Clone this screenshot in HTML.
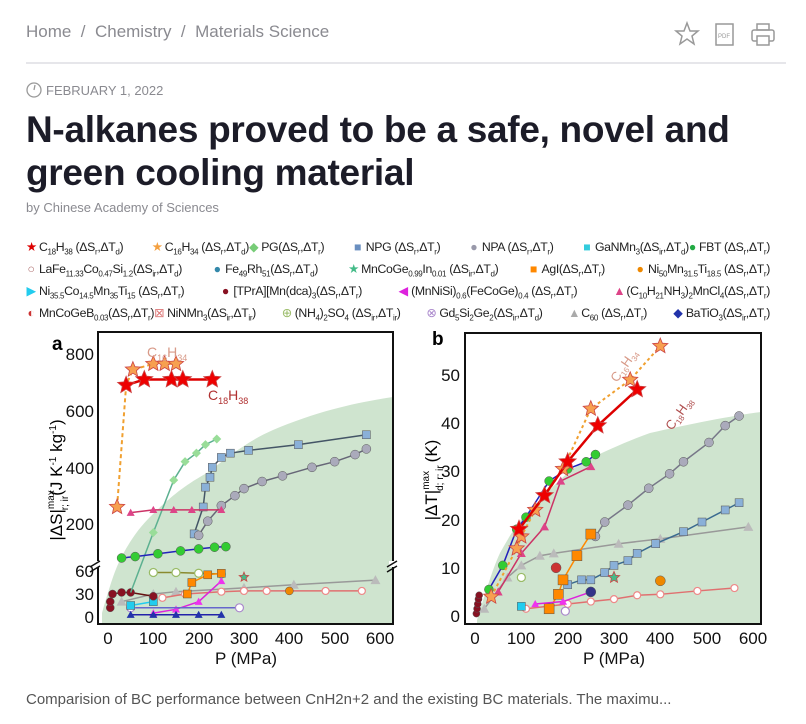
<!DOCTYPE html>
<html><head><meta charset="utf-8"><style>
body{margin:0;background:#fff;width:806px;height:724px;overflow:hidden;position:relative;font-family:"Liberation Sans",sans-serif}
.abs{position:absolute}
.bc{left:26px;top:22px;font-size:17px;color:#8a8a90}
.hr{left:26px;top:62px;width:760px;height:2px;background:#e6e6ea}
.date{left:46px;top:83px;font-size:13px;color:#8a8a90}
h1{position:absolute;left:26px;top:108px;margin:0;font-size:37px;line-height:43px;font-weight:bold;color:#1c1c28;letter-spacing:-0.3px}
.by{left:26px;top:200px;font-size:13px;color:#8a8a90}
.cap{left:26px;top:691px;font-size:15px;color:#555}
.lg{left:26px;width:744px;display:flex;justify-content:space-between;font-size:12.3px;color:#222;white-space:nowrap;letter-spacing:-0.35px}
.lg sub{font-size:8px}
.m{display:inline-block;width:10px;text-align:center;margin-right:3px}
</style></head><body>
<div class="abs bc">Home &nbsp;/&nbsp; Chemistry &nbsp;/&nbsp; Materials Science</div>
<svg class="abs" style="left:672px;top:20px" width="110" height="30" viewBox="0 0 110 30">
<polygon points="15,3 18,11 26,11 20,16 22,24 15,19 8,24 10,16 4,11 12,11" fill="none" stroke="#999" stroke-width="1.5"/>
<rect x="44" y="4" width="17" height="21" fill="none" stroke="#999" stroke-width="1.5"/><text x="46" y="18" font-size="6" fill="#999">PDF</text>
<rect x="80" y="10" width="22" height="11" rx="2" fill="none" stroke="#999" stroke-width="1.5"/><rect x="85" y="4" width="12" height="6" fill="none" stroke="#999" stroke-width="1.5"/><rect x="85" y="16" width="12" height="9" fill="#fff" stroke="#999" stroke-width="1.5"/>
</svg>
<div class="abs hr"></div>
<svg class="abs" style="left:26px;top:81px" width="16" height="18"><circle cx="8" cy="9" r="7" fill="none" stroke="#999" stroke-width="1.3"/><line x1="8" y1="9" x2="9" y2="4" stroke="#999" stroke-width="1.3"/></svg>
<div class="abs date">FEBRUARY 1, 2022</div>
<h1>N-alkanes proved to be a safe, novel and<br>green cooling material</h1>
<div class="abs by">by Chinese Academy of Sciences</div>

<div class="abs lg" style="top:240px"><span><span class="m" style="color:#d00">★</span>C<sub>18</sub>H<sub>38</sub> (ΔS<sub>r</sub>,ΔT<sub>d</sub>)</span><span><span class="m" style="color:#f4a040">★</span>C<sub>16</sub>H<sub>34</sub> (ΔS<sub>r</sub>,ΔT<sub>d</sub>)<span style="color:#7c7">◆</span> PG(ΔS<sub>r</sub>,ΔT<sub>r</sub>)</span><span><span class="m" style="color:#6a8fc0">■</span>NPG (ΔS<sub>r</sub>,ΔT<sub>r</sub>)</span><span><span class="m" style="color:#99a">●</span>NPA (ΔS<sub>r</sub>,ΔT<sub>r</sub>)</span><span><span class="m" style="color:#3cd">■</span>GaNMn<sub>3</sub>(ΔS<sub>ir</sub>,ΔT<sub>d</sub>)<span style="color:#2a4">●</span> FBT (ΔS<sub>r</sub>,ΔT<sub>r</sub>)</span></div>
<div class="abs lg" style="top:262px"><span><span class="m" style="color:#a66">○</span>LaFe<sub>11.33</sub>Co<sub>0.47</sub>Si<sub>1.2</sub>(ΔS<sub>ir</sub>,ΔT<sub>d</sub>)</span><span><span class="m" style="color:#38a">●</span>Fe<sub>49</sub>Rh<sub>51</sub>(ΔS<sub>r</sub>,ΔT<sub>d</sub>)</span><span><span class="m" style="color:#4b8">★</span>MnCoGe<sub>0.99</sub>In<sub>0.01</sub> (ΔS<sub>ir</sub>,ΔT<sub>d</sub>)</span><span><span class="m" style="color:#f80">■</span>AgI(ΔS<sub>r</sub>,ΔT<sub>r</sub>)</span><span><span class="m" style="color:#e80">●</span>Ni<sub>50</sub>Mn<sub>31.5</sub>Ti<sub>18.5</sub> (ΔS<sub>r</sub>,ΔT<sub>r</sub>)</span></div>
<div class="abs lg" style="top:284px"><span><span class="m" style="color:#2ce">▶</span>Ni<sub>35.5</sub>Co<sub>14.5</sub>Mn<sub>35</sub>Ti<sub>15</sub> (ΔS<sub>r</sub>,ΔT<sub>r</sub>)</span><span><span class="m" style="color:#812">●</span>[TPrA][Mn(dca)<sub>3</sub>(ΔS<sub>r</sub>,ΔT<sub>r</sub>)</span><span><span class="m" style="color:#d2d">◀</span>(MnNiSi)<sub>0.6</sub>(FeCoGe)<sub>0.4</sub> (ΔS<sub>r</sub>,ΔT<sub>r</sub>)</span><span><span class="m" style="color:#d48">▲</span>(C<sub>10</sub>H<sub>21</sub>NH<sub>3</sub>)<sub>2</sub>MnCl<sub>4</sub>(ΔS<sub>r</sub>,ΔT<sub>r</sub>)</span></div>
<div class="abs lg" style="top:306px"><span><span class="m" style="color:#c33">◐</span>MnCoGeB<sub>0.03</sub>(ΔS<sub>r</sub>,ΔT<sub>r</sub>)<span style="color:#d77">⊠</span> NiNMn<sub>3</sub>(ΔS<sub>ir</sub>,ΔT<sub>ir</sub>)</span><span><span class="m" style="color:#9b6">⊕</span>(NH<sub>4</sub>)<sub>2</sub>SO<sub>4</sub> (ΔS<sub>ir</sub>,ΔT<sub>ir</sub>)</span><span><span class="m" style="color:#a8c">⊗</span>Gd<sub>5</sub>Si<sub>2</sub>Ge<sub>2</sub>(ΔS<sub>ir</sub>,ΔT<sub>d</sub>)</span><span><span class="m" style="color:#aaa">▲</span>C<sub>60</sub> (ΔS<sub>r</sub>,ΔT<sub>r</sub>)</span><span><span class="m" style="color:#23a">◆</span>BaTiO<sub>3</sub>(ΔS<sub>ir</sub>,ΔT<sub>r</sub>)</span></div>

<svg class="abs" style="left:0;top:325px" width="806" height="360" viewBox="0 325 806 360" id="ch" font-family="Liberation Sans, sans-serif">
<path d="M102,617 L102,613 C110,585 115,570 120,560 C130,540 140,527 150,517 C170,497 185,485 207,473 C230,455 250,440 273,430 C320,410 360,402 393,397 L393,624 L102,624Z" fill="#cfe4cf"/>
<path d="M477,620 C485,595 492,570 500,553 C510,535 520,518 533,507 C550,490 565,472 587,460 C610,449 630,440 650,433 C690,424 730,416 761,412 L761,624 L477,624Z" fill="#cfe4cf"/>
<g id="pts"></g>
<rect x="98" y="332" width="295" height="292" fill="none" stroke="#111" stroke-width="2"/>
<rect x="92" y="561" width="10" height="6" fill="#fff"/><rect x="389" y="561" width="10" height="6" fill="#fff"/>
<path d="M90,567 l10,-6 M90,572 l10,-6 M387,567 l10,-6 M387,572 l10,-6" stroke="#111" stroke-width="1.5"/>
<g font-size="17" fill="#111" text-anchor="end">
<text x="94" y="360">800</text><text x="94" y="417">600</text><text x="94" y="474">400</text><text x="94" y="530">200</text>
<text x="94" y="577">60</text><text x="94" y="600">30</text><text x="94" y="623">0</text></g>
<g font-size="17" fill="#111" text-anchor="middle">
<text x="108" y="644">0</text><text x="153" y="644">100</text><text x="199" y="644">200</text><text x="244" y="644">300</text><text x="289" y="644">400</text><text x="335" y="644">500</text><text x="380" y="644">600</text>
<text x="246" y="664">P (MPa)</text></g>
<text x="52" y="350" font-size="19" font-weight="bold">a</text>
<text transform="translate(62,480) rotate(-90)" font-size="17" text-anchor="middle">|ΔS|<tspan font-size="10" dy="-8">max</tspan><tspan font-size="10" dx="-20" dy="14">r; ir</tspan><tspan dy="-6">(J K</tspan><tspan font-size="10" dy="-6">-1</tspan><tspan dy="6"> kg</tspan><tspan font-size="10" dy="-6">-1</tspan><tspan dy="6">)</tspan></text>
<text x="147" y="357" font-size="14" fill="#d89a88">C<tspan font-size="9" dy="4">16</tspan><tspan dy="-4">H</tspan><tspan font-size="9" dy="4">34</tspan></text>
<text x="208" y="400" font-size="14" fill="#b03030">C<tspan font-size="9" dy="4">18</tspan><tspan dy="-4">H</tspan><tspan font-size="9" dy="4">38</tspan></text>
<rect x="465" y="333" width="296" height="291" fill="none" stroke="#111" stroke-width="2"/>
<g font-size="17" fill="#111" text-anchor="end">
<text x="460" y="622">0</text><text x="460" y="574">10</text><text x="460" y="526">20</text><text x="460" y="477">30</text><text x="460" y="429">40</text><text x="460" y="381">50</text></g>
<g font-size="17" fill="#111" text-anchor="middle">
<text x="475" y="644">0</text><text x="521" y="644">100</text><text x="568" y="644">200</text><text x="614" y="644">300</text><text x="660" y="644">400</text><text x="707" y="644">500</text><text x="753" y="644">600</text>
<text x="614" y="664">P (MPa)</text></g>
<text x="432" y="345" font-size="19" font-weight="bold">b</text>
<text transform="translate(437,480) rotate(-90)" font-size="17" text-anchor="middle">|ΔT|<tspan font-size="10" dy="-8">max</tspan><tspan font-size="10" dx="-20" dy="14">d; r; ir</tspan><tspan dy="-6" dx="3">(K)</tspan></text>
<text transform="translate(672,431) rotate(-55)" font-size="13" fill="#b05050">C<tspan font-size="8" dy="3">18</tspan><tspan dy="-3">H</tspan><tspan font-size="8" dy="3">38</tspan></text>
<text transform="translate(617,383) rotate(-55)" font-size="13" fill="#d89a88">C<tspan font-size="8" dy="3">16</tspan><tspan dy="-3">H</tspan><tspan font-size="8" dy="3">34</tspan></text>
</svg>
<div class="abs cap">Comparision of BC performance between CnH2n+2 and the existing BC materials. The maximu...</div>
<script>
var NS="http://www.w3.org/2000/svg",G=document.getElementById("pts");
function ax(p){return 108+p*0.4533}
function ay(v,low){return low?617-v*0.767:524-(v-200)*0.2833}
function bx(p){return 475+p*0.4633}
function by(v){return 616-v*4.82}
function el(t,a){var e=document.createElementNS(NS,t);for(var k in a)e.setAttribute(k,a[k]);G.appendChild(e);return e}
function star(x,y,r,f){var s="";for(var i=0;i<10;i++){var R=i%2?r*0.45:r,a=-Math.PI/2+i*Math.PI/5;s+=(x+R*Math.cos(a)).toFixed(1)+","+(y+R*Math.sin(a)).toFixed(1)+" "}el("polygon",{points:s,fill:f,stroke:"#c44",'stroke-width':0.8})}
function mk(x,y,t,f,s){s=s||4;
 if(t=="c")el("circle",{cx:x,cy:y,r:s,fill:f,stroke:"#555",'stroke-width':0.5});
 else if(t=="s")el("rect",{x:x-s,y:y-s,width:2*s,height:2*s,fill:f,stroke:"#555",'stroke-width':0.5});
 else if(t=="t")el("polygon",{points:(x)+","+(y-s)+" "+(x+s)+","+(y+s*0.8)+" "+(x-s)+","+(y+s*0.8),fill:f});
 else if(t=="d")el("polygon",{points:x+","+(y-s)+" "+(x+s)+","+y+" "+x+","+(y+s)+" "+(x-s)+","+y,fill:f});
 else if(t=="o")el("circle",{cx:x,cy:y,r:s,fill:"#fff",stroke:f,'stroke-width':1.2});
 else if(t=="*")star(x,y,s,f);}
function serP(P,col,t,f,s,dash,w){
 var a={points:P.map(function(q){return q.join(",")}).join(" "),fill:"none",stroke:col,'stroke-width':w||1.5};if(dash)a['stroke-dasharray']=dash;el("polyline",a);
 if(t)P.forEach(function(q){mk(q[0],q[1],t,f,s)})}
function ser(pts,fx,fy,col,t,f,s,dash,w){serP(pts.map(function(p){return [fx(p[0]),fy(p[1])]}),col,t,f,s,dash,w)}
var AU=function(v){return ay(v,0)},AL=function(v){return ay(v,1)};
ser([[100,58],[150,58],[200,57],[250,56]],ax,AL,"#8a8a30","o","#9b6",4);
ser([[30,20],[100,30],[150,33],[300,38],[410,42],[590,48]],ax,AL,"#999","t","#bbb",5);
ser([[120,25],[170,30],[250,33],[300,34],[350,34],[400,34],[480,34],[560,34]],ax,AL,"#e07070","o","#e88",3.5);
ser([[175,30],[185,45],[220,55],[250,57]],ax,AL,"#f80","s","#f80",4);
ser([[100,5],[150,10],[200,20],[250,47]],ax,AL,"#d2d","t","#e3e",4);
ser([[50,12],[290,12]],ax,AL,"#66c","o","#a8c",4);
ser([[50,3],[100,3],[150,3],[200,3],[250,3]],ax,AL,"#22a","t","#23a",4);
ser([[50,15],[100,20]],ax,AL,"#2ce","s","#2ce",4);
ser([[5,12],[5,20],[10,30],[30,32],[50,32],[100,27]],ax,AL,"#611","c","#812",4);
mk(ax(300),AL(52),"*","#4b8",5);mk(ax(400),AL(34),"c","#e80",4);
var pg=[[ax(50),AL(32)]].concat([[100,170],[145,355],[170,420],[195,450],[215,480],[240,500]].map(function(p){return [ax(p[0]),AU(p[1])]}));
serP(pg,"#5cb090",null);pg.slice(1).forEach(function(q){mk(q[0],q[1],"d","#9d9",4.5)});
ser([[190,165],[210,260],[215,330],[225,365],[230,400],[250,435],[270,450],[310,460],[420,480],[570,515]],ax,AU,"#456","s","#8ab0d8",4);
ser([[200,160],[220,210],[250,265],[280,300],[300,325],[340,350],[385,370],[450,400],[500,420],[545,445],[570,465]],ax,AU,"#667","c","#aab",4.5);
ser([[50,240],[100,250],[145,250],[185,250],[250,250]],ax,AU,"#c36","t","#d48",4);
ser([[30,80],[60,85],[110,95],[160,105],[200,112],[235,118],[260,120]],ax,AU,"#22b","c","#3c3",4.5);
ser([[20,260],[40,690],[55,745],[100,765],[125,765],[150,765]],ax,AU,"#f0a030",null,null,0,"4,3",2);
[[20,260],[55,745],[100,765],[125,765],[150,765]].forEach(function(p){mk(ax(p[0]),AU(p[1]),"*","#f7a050",8)});
ser([[40,690],[80,710],[140,710],[165,710],[230,710]],ax,AU,"#d00","*","#e00",9,null,2.5);
ser([[20,1.5],[70,8],[100,10.5],[140,12.5],[170,13],[310,15],[400,16],[590,18.5]],bx,by,"#999","t","#bbb",5);
ser([[260,16.5],[280,19.5],[330,23],[375,26.5],[420,29.5],[450,32],[505,36],[540,39.5],[570,41.5]],bx,by,"#778","c","#aab",4.5);
ser([[200,6.5],[230,7.5],[250,7.5],[280,9],[300,10.5],[330,11.5],[350,13],[390,15],[450,17.5],[490,19.5],[540,22],[570,23.5]],bx,by,"#3a6a90","s","#8ab0d8",4);
ser([[110,1.5],[200,2.5],[250,3],[300,3.5],[350,4.3],[400,4.5],[480,5.2],[560,5.8]],bx,by,"#e07070","o","#e88",3.5);
ser([[160,1.5],[180,4.5],[190,7.5],[220,12.5],[250,17]],bx,by,"#f80","s","#f80",5);
ser([[130,2.5],[190,3],[250,5]],bx,by,"#d2d","t","#e3e",4);
ser([[50,5],[100,13],[150,18.5],[185,28],[250,31]],bx,by,"#c36","t","#d48",4.5);
ser([[30,5.5],[60,10.5],[90,18],[110,20.5],[160,28],[200,30.5],[240,32],[260,33.5]],bx,by,"#22b","c","#3c3",4.5);
ser([[35,4],[90,14],[100,16.5],[130,22],[190,30.5],[250,43],[335,49],[400,56]],bx,by,"#f0a030",null,null,0,"3,3",2);
[[35,4],[90,14],[100,16.5],[130,22],[190,30.5],[250,43],[335,49],[400,56]].forEach(function(p){mk(bx(p[0]),by(p[1]),"*","#f7a050",8)});
ser([[95,18],[150,25],[200,32],[265,39.5],[350,47]],bx,by,"#d00","*","#e00",9,null,2.5);
[0.5,1.5,2.5,3.5,4.3].forEach(function(v,i){mk(bx(3+i*1.5),by(v),"c","#812",3.5)});
mk(bx(100),by(2),"s","#2ce",4);mk(bx(175),by(10),"c","#c33",5);mk(bx(100),by(8),"o","#9b6",4);
mk(bx(300),by(8),"*","#4b8",6);mk(bx(400),by(7.3),"c","#e80",5);mk(bx(195),by(1),"o","#a8c",4);mk(bx(250),by(5),"c","#338",5);
</script>
</body></html>
